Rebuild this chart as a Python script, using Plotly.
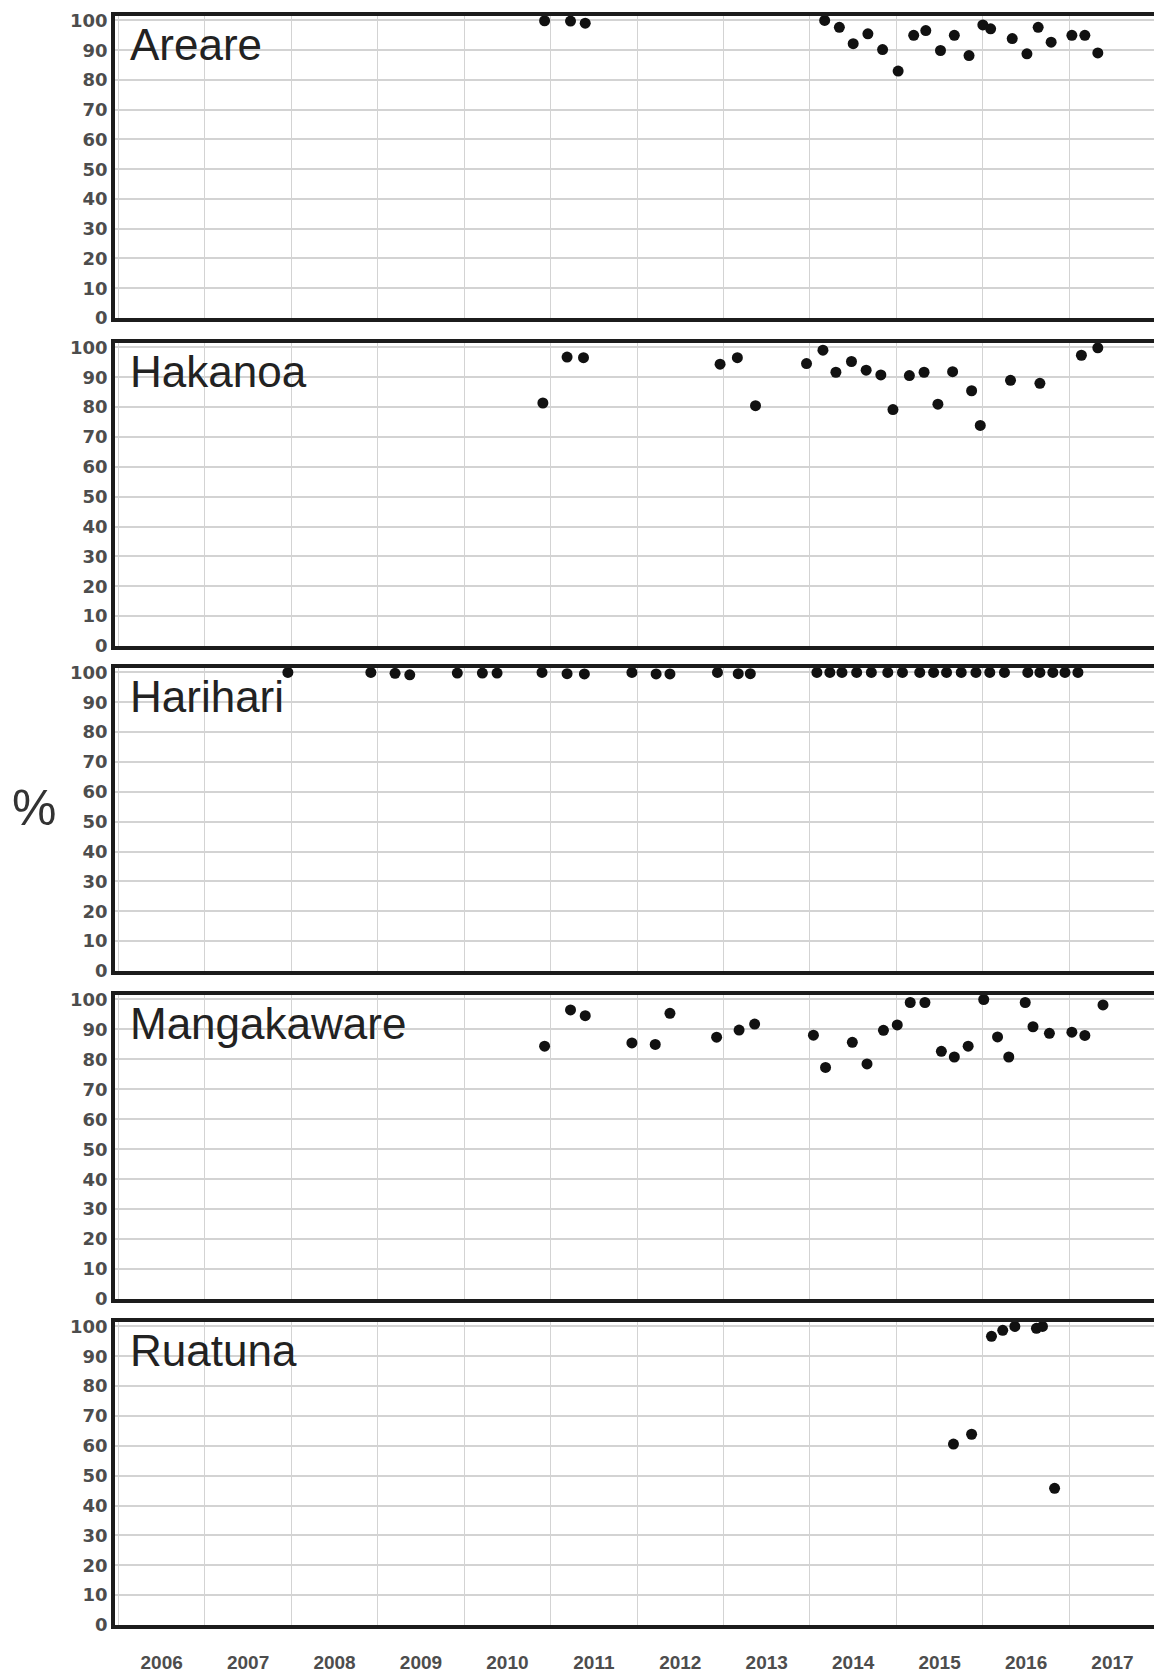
import plotly.graph_objects as go

# ---------------- data ----------------
sites = ["Areare", "Hakanoa", "Harihari", "Mangakaware", "Ruatuna"]

areare_year = [2010.93, 2011.23, 2011.40, 2014.17, 2014.34, 2014.50, 2014.67, 2014.84,
               2015.02, 2015.20, 2015.34, 2015.51, 2015.67, 2015.84, 2016.00, 2016.09,
               2016.34, 2016.51, 2016.64, 2016.79, 2017.03, 2017.18, 2017.33]
areare_pct = [99.9, 99.8, 99.1, 100, 97.7, 92.2, 95.5, 90.2,
              83.0, 95.0, 96.6, 89.9, 95.0, 88.2, 98.5, 97.2,
              93.9, 88.8, 97.7, 92.7, 95.0, 95.0, 89.1]

hakanoa_year = [2010.91, 2011.19, 2011.38, 2012.96, 2013.16, 2013.37, 2013.96, 2014.15,
                2014.30, 2014.48, 2014.65, 2014.82, 2014.96, 2015.15, 2015.32, 2015.48,
                2015.65, 2015.87, 2015.97, 2016.32, 2016.66, 2017.14, 2017.33]
hakanoa_pct = [81.4, 96.8, 96.6, 94.4, 96.6, 80.5, 94.6, 99.1,
               91.7, 95.3, 92.4, 90.8, 79.2, 90.6, 91.7, 81.0,
               91.9, 85.5, 73.9, 89.0, 88.0, 97.4, 99.9]

harihari_year = [2007.96, 2008.92, 2009.20, 2009.37, 2009.92, 2010.21, 2010.38,
                 2010.90, 2011.19, 2011.39, 2011.94, 2012.22, 2012.38, 2012.93,
                 2013.17, 2013.31, 2014.08, 2014.23, 2014.37, 2014.54, 2014.71,
                 2014.90, 2015.07, 2015.27, 2015.43, 2015.58, 2015.75, 2015.92,
                 2016.08, 2016.25, 2016.52, 2016.66, 2016.81, 2016.95, 2017.10]
harihari_pct = [100, 100, 99.7, 99.2, 99.8, 99.8, 99.8,
                100, 99.6, 99.5, 100, 99.5, 99.5, 100,
                99.6, 99.6, 100, 100, 100, 100, 100,
                100, 100, 100, 100, 100, 100, 100,
                100, 100, 100, 100, 100, 100, 100]

mangakaware_year = [2010.93, 2011.23, 2011.40, 2011.94, 2012.21, 2012.38, 2012.92, 2013.18,
                    2013.36, 2014.04, 2014.18, 2014.49, 2014.66, 2014.85, 2015.01, 2015.16,
                    2015.33, 2015.52, 2015.67, 2015.83, 2016.01, 2016.17, 2016.30, 2016.49,
                    2016.58, 2016.77, 2017.03, 2017.18, 2017.39]
mangakaware_pct = [84.4, 96.5, 94.6, 85.5, 85.0, 95.4, 87.4, 89.8,
                   91.8, 88.1, 77.3, 85.7, 78.5, 89.7, 91.5, 99.0,
                   99.0, 82.7, 80.8, 84.4, 100, 87.5, 80.8, 99.0,
                   90.9, 88.7, 89.1, 88.0, 98.2]

ruatuna_year = [2015.66, 2015.87, 2016.10, 2016.23, 2016.37, 2016.62, 2016.69, 2016.83]
ruatuna_pct = [60.6, 63.9, 96.7, 98.7, 100, 99.4, 100, 45.8]

years = list(range(2006, 2018))
year_labels = [str(y) for y in years]
pct_ticks = list(range(0, 101, 10))

series = [
    (areare_year, areare_pct),
    (hakanoa_year, hakanoa_pct),
    (harihari_year, harihari_pct),
    (mangakaware_year, mangakaware_pct),
    (ruatuna_year, ruatuna_pct),
]

# ---------------- layout geometry ----------------
W, H = 1154, 1673
M_L, M_R, M_T, M_B = 115, 0, 16, 48
PH = H - M_T - M_B
panel_px = [(16, 318), (343, 646), (668, 971), (995, 1299), (1322, 1625)]


def frac(py):
    return (H - M_B - py) / PH


fig = go.Figure()

line_col = "#1c1c1c"
grid_col = "#d3d3d3"
tick_font = dict(family="DejaVu Sans", size=18, color="#4d4d4d", weight="bold")

for i, (name, (xs, ys)) in enumerate(zip(sites, series)):
    n = i + 1
    xa = "x" if n == 1 else f"x{n}"
    ya = "y" if n == 1 else f"y{n}"
    fig.add_trace(go.Scatter(
        x=xs, y=ys, mode="markers", xaxis=xa, yaxis=ya,
        marker=dict(size=11, color="#111111"), showlegend=False,
        cliponaxis=False,
    ))
    top, bot = panel_px[i]
    last = (n == len(sites))
    xkey = "xaxis" if n == 1 else f"xaxis{n}"
    ykey = "yaxis" if n == 1 else f"yaxis{n}"
    fig.layout[xkey] = dict(
        domain=[0, 1], anchor=ya, range=[2005.96, 2017.98], automargin=False,
        tickvals=[y + 0.5 for y in years], ticktext=year_labels,
        showticklabels=last, showgrid=False, zeroline=False,
        ticks="outside" if last else "", ticklen=17, tickcolor="rgba(0,0,0,0)",
        tickfont=dict(family="Liberation Sans", size=19, color="#4d4d4d", weight="bold"),
        showline=True, linecolor=line_col, linewidth=3.5, mirror=True,
        minor=dict(tick0=2006, dtick=1, showgrid=True, gridcolor=grid_col, gridwidth=1.2, ticks=""),
        fixedrange=True,
    )
    if n > 1:
        fig.layout[xkey].matches = "x"
    fig.layout[ykey] = dict(
        domain=[frac(bot), frac(top)], anchor=xa, range=[0, 101.5], automargin=False,
        tickvals=pct_ticks, showgrid=True, gridcolor=grid_col, gridwidth=1.6,
        zeroline=False, showline=True, linecolor=line_col, linewidth=3.5, mirror=False,
        ticks="", tickfont=tick_font,
        fixedrange=True,
    )
    fig.add_annotation(
        text=name, xref=f"{xa} domain", yref=f"{ya} domain",
        x=(128 - M_L) / (W - M_L - M_R), y=1, xanchor="left", yanchor="top",
        yshift=-2, showarrow=False,
        font=dict(family="Liberation Sans", size=44, color="#222222"),
    )

fig.add_annotation(
    text="%", xref="paper", yref="paper",
    x=(34 - M_L) / (W - M_L - M_R), y=frac(808), xanchor="center", yanchor="middle",
    showarrow=False, font=dict(family="Liberation Sans", size=50, color="#333333"),
)

fig.update_layout(
    width=W, height=H, margin=dict(l=M_L, r=M_R, t=M_T, b=M_B, pad=0),
    paper_bgcolor="white", plot_bgcolor="white",
)

fig.write_html("out.html", config={"displayModeBar": False})
